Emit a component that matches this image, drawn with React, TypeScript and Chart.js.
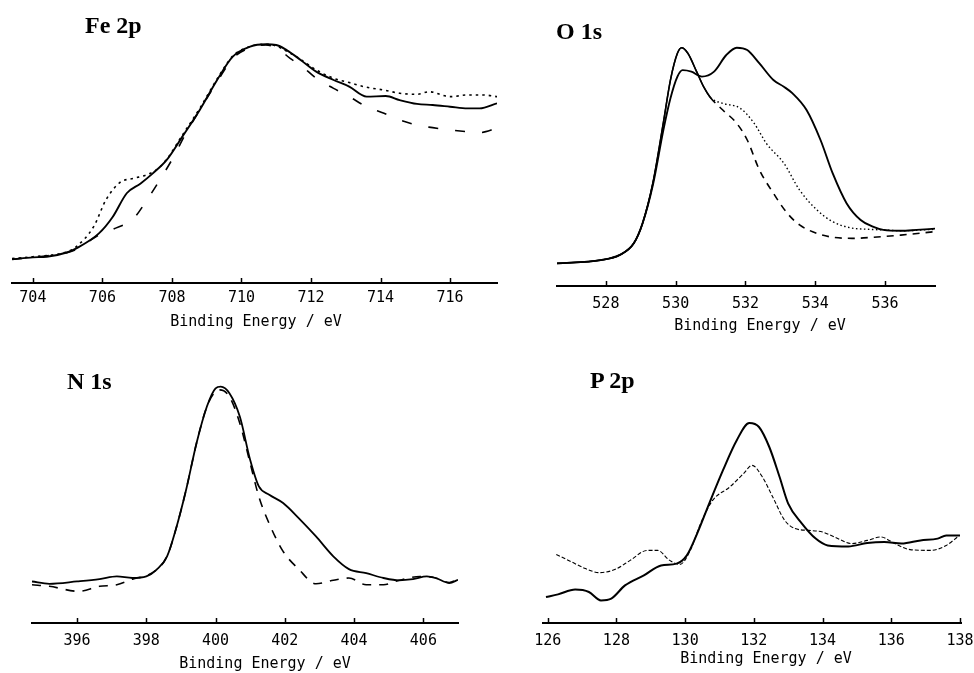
import React, { useEffect, useRef } from "react";
import { Chart, registerables } from "chart.js";

Chart.register(...registerables);

// ---------- Fe 2p ----------
const FE_SOLID_E = [703.4, 704.0, 704.4, 705.0, 705.25, 705.9, 706.3, 706.7, 707.1, 707.45, 707.85, 708.3, 708.8, 709.3, 709.75, 710.25, 710.7, 711.0, 711.3, 711.7, 712.15, 712.65, 713.1, 713.6, 714.15, 714.55, 715.05, 715.5, 716.0, 716.5, 716.85, 717.35];
const FE_SOLID_I = [-0.6, 0.3, 0.6, 2.7, 4.5, 11.5, 19.3, 30.3, 34.9, 39.6, 45.9, 56.8, 69.3, 83.3, 94.2, 98.9, 100, 99.7, 97.3, 92.7, 87.2, 83.3, 80.2, 75.5, 75.8, 73.9, 72.1, 71.6, 70.8, 70.0, 70.0, 72.4];
const FE_DOT_E = [703.4, 704.0, 705.0, 705.25, 705.75, 706.1, 706.5, 706.9, 707.25, 707.55, 707.85, 708.3, 708.8, 709.3, 709.75, 710.25, 710.75, 711.5, 712.15, 712.65, 713.1, 713.6, 714.1, 714.55, 715.05, 715.4, 716.0, 716.5, 716.95, 717.35];
const FE_DOT_I = [-0.3, 0.6, 3.0, 5.3, 14.7, 27.1, 35.3, 37.3, 38.8, 41.2, 46.2, 57.5, 70.0, 83.8, 94.5, 99.0, 100, 95.0, 88.0, 84.1, 82.1, 79.9, 78.6, 77.1, 76.6, 77.8, 75.5, 76.3, 76.3, 75.5];
const FE_DASH_E = [703.4, 704.0, 704.95, 705.25, 705.9, 706.3, 706.9, 707.25, 707.65, 708.05, 708.4, 708.8, 709.3, 709.75, 710.25, 710.7, 711.1, 711.4, 711.7, 712.15, 712.65, 713.1, 713.6, 714.1, 714.55, 715.05, 715.5, 716.0, 716.5, 716.85, 717.35];
const FE_DASH_I = [-0.6, 0.3, 2.4, 4.0, 10.8, 13.4, 18.6, 26.4, 36.5, 47.4, 58.3, 69.3, 82.5, 93.4, 98.4, 99.7, 97.3, 93.4, 90.3, 84.1, 79.4, 75.5, 70.8, 67.7, 64.6, 62.2, 61.0, 59.9, 59.1, 58.7, 60.7];

// ---------- O 1s ----------
const O_SOLID_E = [526.6, 527.85, 528.4, 528.8, 529.05, 529.35, 529.65, 529.85, 530.05, 530.2, 530.45, 530.75, 531.1, 531.45, 531.75, 532.05, 532.4, 532.8, 533.1, 533.35, 533.75, 534.15, 534.5, 534.9, 535.3, 535.65, 535.95, 536.45, 536.9, 537.43];
const O_SOLID_I = [0, 1.5, 3.9, 9.3, 18.5, 36.5, 62.0, 76.5, 86.6, 89.6, 88.9, 86.6, 88.9, 96.6, 100, 98.9, 92.7, 85.0, 81.9, 78.8, 71.1, 57.2, 41.7, 27.8, 20.1, 17.0, 15.5, 15.1, 15.5, 16.1];
const O_DOT_E = [526.6, 527.85, 528.4, 528.8, 529.05, 529.35, 529.65, 529.85, 530.05, 530.17, 530.35, 530.6, 530.8, 531.0, 531.35, 531.85, 532.25, 532.6, 533.1, 533.55, 534.05, 534.5, 535.0, 535.5, 535.95, 536.45, 537.43];
const O_DOT_I = [0, 1.5, 3.9, 9.3, 18.5, 37.5, 65.5, 85.0, 97.4, 100, 97.4, 88.9, 81.9, 76.8, 74.2, 71.9, 64.9, 55.6, 46.4, 34.0, 24.7, 19.3, 16.5, 15.8, 15.5, 15.1, 15.8];
const O_DASH_E = [526.6, 527.85, 528.4, 528.8, 529.05, 529.35, 529.65, 529.85, 530.05, 530.17, 530.35, 530.6, 530.8, 531.0, 531.35, 531.75, 532.05, 532.4, 532.8, 533.2, 533.55, 534.05, 534.5, 535.1, 535.65, 536.45, 537.43];
const O_DASH_I = [0, 1.5, 3.9, 9.3, 18.5, 37.5, 65.5, 85.0, 97.4, 100, 97.4, 88.9, 81.9, 76.8, 71.1, 64.9, 57.2, 43.3, 32.5, 23.2, 17.8, 13.9, 12.1, 11.6, 12.1, 13.1, 14.7];

// ---------- N 1s ----------
const N_SOLID_E = [394.7, 395.2, 396.0, 396.65, 397.15, 397.6, 398.0, 398.3, 398.6, 398.85, 399.15, 399.45, 399.75, 400.0, 400.15, 400.4, 400.7, 401.0, 401.25, 401.55, 401.95, 402.4, 402.9, 403.4, 403.85, 404.35, 404.85, 405.3, 405.7, 406.1, 406.35, 406.75, 407.0];
const N_SOLID_I = [-0.9, -2.1, -0.9, 0.3, 1.7, 0.9, 1.7, 5.2, 12.1, 25.9, 46.6, 70.7, 89.7, 99.1, 100, 96.6, 84.5, 62.0, 48.3, 44.0, 39.7, 31.9, 22.4, 12.1, 5.5, 3.4, 0.9, -0.3, 0.3, 1.7, 0.9, -1.7, 0.0];
const N_DASH_E = [394.7, 395.2, 396.05, 396.65, 397.15, 397.6, 398.0, 398.3, 398.6, 398.85, 399.15, 399.45, 399.75, 400.0, 400.12, 400.4, 400.7, 401.0, 401.25, 401.55, 401.95, 402.4, 402.9, 403.4, 403.85, 404.35, 404.85, 405.3, 405.9, 406.25, 406.75, 407.0];
const N_DASH_I = [-2.6, -3.4, -6.0, -3.4, -2.6, 0.3, 2.1, 5.2, 12.1, 25.9, 46.6, 70.7, 89.7, 97.5, 98.3, 94.8, 81.0, 60.3, 43.0, 29.0, 14.7, 5.5, -2.1, -0.3, 0.9, -2.6, -2.6, -0.3, 1.7, 1.4, -1.4, 0.3];

// ---------- P 2p ----------
const P_SOLID_E = [125.95, 126.3, 126.8, 127.2, 127.55, 127.85, 128.25, 128.8, 129.3, 129.75, 130.05, 130.35, 130.7, 131.1, 131.5, 131.87, 132.15, 132.45, 132.75, 133.0, 133.4, 133.8, 134.15, 134.75, 135.3, 135.8, 136.3, 136.85, 137.35, 137.6, 138.0];
const P_SOLID_I = [13.0, 14.3, 16.7, 15.5, 11.3, 12.2, 18.8, 23.8, 28.8, 29.7, 33.8, 44.7, 59.7, 76.3, 91.3, 100, 98.0, 88.0, 73.0, 59.7, 49.7, 42.2, 38.8, 38.3, 40.0, 40.5, 39.7, 41.3, 42.2, 43.8, 43.8];
const P_DASH_E = [126.25, 126.7, 127.1, 127.5, 127.95, 128.4, 128.9, 129.2, 129.55, 129.85, 130.15, 130.45, 130.8, 131.3, 131.7, 131.95, 132.25, 132.55, 132.9, 133.2, 133.6, 134.0, 134.35, 134.85, 135.3, 135.7, 136.1, 136.55, 137.15, 137.6, 137.95];
const P_DASH_I = [34.3, 30.5, 27.2, 25.2, 26.7, 31.3, 36.3, 36.3, 31.3, 29.3, 36.3, 49.7, 61.3, 68.0, 74.7, 78.8, 73.0, 63.0, 51.3, 47.2, 46.3, 45.5, 43.0, 39.7, 41.3, 43.0, 39.7, 36.7, 36.3, 38.8, 43.3];

const AXIS_TITLE = "Binding Energy / eV";

type Series = { e: number[]; i: number[]; width: number; dash: number[]; solidUntil?: number };
type Panel = {
  label: string; labelLeft: number; labelTop: number;
  L: number; R: number; top: number; bottom: number;
  xMin: number; xMax: number; yMin: number; yMax: number;
  tickPad: number; titleX: number; titleY: number;
  series: Series[];
};

const PANELS: Panel[] = [
  {
    label: "Fe 2p", labelLeft: 85, labelTop: 13,
    L: 12, R: 497, top: 30, bottom: 283,
    xMin: 703.4, xMax: 717.35, yMin: -11.7, yMax: 106.7,
    tickPad: 6, titleX: 256, titleY: 322,
    series: [
      { e: FE_DASH_E, i: FE_DASH_I, width: 1.6, dash: [10, 17] },
      { e: FE_DOT_E, i: FE_DOT_I, width: 1.6, dash: [2.5, 4] },
      { e: FE_SOLID_E, i: FE_SOLID_I, width: 1.9, dash: [] },
    ],
  },
  {
    label: "O 1s", labelLeft: 556, labelTop: 19,
    L: 557, R: 935, top: 30, bottom: 286,
    xMin: 526.6, xMax: 537.43, yMin: -10.5, yMax: 108.2,
    tickPad: 9, titleX: 760, titleY: 326,
    series: [
      { e: O_DASH_E, i: O_DASH_I, width: 1.6, dash: [7, 6], solidUntil: 531.0 },
      { e: O_DOT_E, i: O_DOT_I, width: 1.4, dash: [1.5, 2.5], solidUntil: 531.0 },
      { e: O_SOLID_E, i: O_SOLID_I, width: 1.9, dash: [] },
    ],
  },
  {
    label: "N 1s", labelLeft: 67, labelTop: 369,
    L: 32, R: 458, top: 370, bottom: 623,
    xMin: 394.7, xMax: 407.0, yMin: -22.4, yMax: 108.6,
    tickPad: 9, titleX: 265, titleY: 664,
    series: [
      { e: N_DASH_E, i: N_DASH_I, width: 1.6, dash: [9, 8] },
      { e: N_SOLID_E, i: N_SOLID_I, width: 1.8, dash: [] },
    ],
  },
  {
    label: "P 2p", labelLeft: 590, labelTop: 368,
    L: 537, R: 961, top: 370, bottom: 623,
    xMin: 125.85, xMax: 138.03, yMin: 0, yMax: 126.5,
    tickPad: 9, titleX: 766, titleY: 659,
    series: [
      { e: P_DASH_E, i: P_DASH_I, width: 1.1, dash: [4, 2] },
      { e: P_SOLID_E, i: P_SOLID_I, width: 2.0, dash: [] },
    ],
  },
];

const PAD_L = 12;
const PAD_R = 30;
const PAD_T = 10;
const AXIS_H = 60;
const MONO = "'DejaVu Sans Mono', monospace";

const decorPlugin = {
  id: "decor",
  afterDraw(chart: any, _args: any, opts: any) {
    const { ctx, chartArea } = chart;
    const xs = chart.scales.x;
    ctx.save();
    ctx.strokeStyle = "#000";
    ctx.lineWidth = 1.5;
    xs.ticks.forEach((t: any) => {
      const px = Math.round(xs.getPixelForValue(t.value)) + 0.5;
      ctx.beginPath();
      ctx.moveTo(px, chartArea.bottom);
      ctx.lineTo(px, chartArea.bottom - 5);
      ctx.stroke();
    });
    ctx.fillStyle = "#000";
    ctx.font = `15px ${MONO}`;
    ctx.textAlign = "center";
    ctx.textBaseline = "middle";
    ctx.fillText(opts.text, opts.x, opts.y);
    ctx.restore();
  },
};

function PanelChart({ p }: { p: Panel }) {
  const ref = useRef<HTMLCanvasElement>(null);
  const cw = p.R - p.L + PAD_L + PAD_R;
  const ch = p.bottom - p.top + PAD_T + AXIS_H;
  const left = p.L - PAD_L;
  const top = p.top - PAD_T;

  useEffect(() => {
    if (!ref.current) return;
    const chart = new Chart(ref.current, {
      type: "line",
      data: {
        datasets: p.series.map((s) => ({
          data: s.e.map((x, k) => ({ x, y: s.i[k] })),
          borderColor: "#000",
          borderWidth: s.width,
          borderDash: s.dash,
          pointRadius: 0,
          fill: false,
          cubicInterpolationMode: "monotone" as const,
          segment:
            s.solidUntil !== undefined
              ? {
                  borderDash: (c: any) =>
                    c.p1.parsed.x <= (s.solidUntil as number) ? [] : s.dash,
                }
              : undefined,
        })),
      },
      plugins: [decorPlugin],
      options: {
        animation: false,
        responsive: false,
        devicePixelRatio: 1,
        layout: { padding: { left: PAD_L, right: PAD_R, top: PAD_T, bottom: 0 } },
        plugins: {
          legend: { display: false },
          tooltip: { enabled: false },
          decor: { text: AXIS_TITLE, x: p.titleX - left, y: p.titleY - top },
        } as any,
        scales: {
          x: {
            type: "linear",
            min: p.xMin,
            max: p.xMax,
            grid: { display: false, drawTicks: false },
            border: { display: true, color: "#000", width: 2 },
            afterFit: (scale: any) => {
              scale.height = AXIS_H;
            },
            ticks: {
              stepSize: 2,
              includeBounds: false,
              autoSkip: false,
              maxRotation: 0,
              padding: p.tickPad,
              color: "#000",
              font: { family: MONO, size: 15 },
              callback: (v: any) => String(Math.round(Number(v))),
            },
          },
          y: { type: "linear", display: false, min: p.yMin, max: p.yMax },
        },
      },
    });
    return () => chart.destroy();
  }, []);

  return (
    <canvas
      ref={ref}
      width={cw}
      height={ch}
      style={{ position: "absolute", left, top, width: cw, height: ch }}
    />
  );
}

export default function App() {
  return (
    <div
      style={{
        position: "absolute",
        left: 0,
        top: 0,
        width: 974,
        height: 673,
        overflow: "hidden",
        background: "#fff",
      }}
    >
      {PANELS.map((p) => (
        <React.Fragment key={p.label}>
          <PanelChart p={p} />
          <div
            style={{
              position: "absolute",
              left: p.labelLeft,
              top: p.labelTop,
              fontFamily: "'Liberation Serif', 'Times New Roman', serif",
              fontWeight: "bold",
              fontSize: 24,
              lineHeight: "24px",
              color: "#000",
              whiteSpace: "nowrap",
            }}
          >
            {p.label}
          </div>
        </React.Fragment>
      ))}
    </div>
  );
}
